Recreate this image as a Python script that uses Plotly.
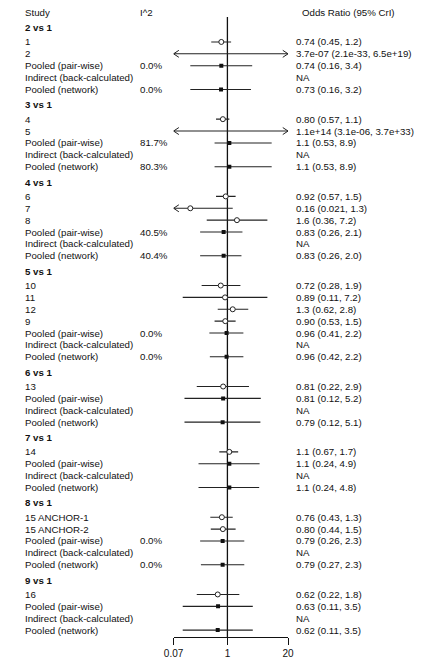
import math
import plotly.graph_objects as go

# ---- data ---------------------------------------------------------------
groups = ["2 vs 1", "3 vs 1", "4 vs 1", "5 vs 1", "6 vs 1", "7 vs 1", "8 vs 1", "9 vs 1"]

row_group = [0, 0, 0, 0, 0,
             1, 1, 1, 1, 1,
             2, 2, 2, 2, 2, 2,
             3, 3, 3, 3, 3, 3, 3,
             4, 4, 4, 4,
             5, 5, 5, 5,
             6, 6, 6, 6, 6,
             7, 7, 7, 7]

row_label = ["1", "2", "Pooled (pair-wise)", "Indirect (back-calculated)", "Pooled (network)",
             "4", "5", "Pooled (pair-wise)", "Indirect (back-calculated)", "Pooled (network)",
             "6", "7", "8", "Pooled (pair-wise)", "Indirect (back-calculated)", "Pooled (network)",
             "10", "11", "12", "9", "Pooled (pair-wise)", "Indirect (back-calculated)", "Pooled (network)",
             "13", "Pooled (pair-wise)", "Indirect (back-calculated)", "Pooled (network)",
             "14", "Pooled (pair-wise)", "Indirect (back-calculated)", "Pooled (network)",
             "15 ANCHOR-1", "15 ANCHOR-2", "Pooled (pair-wise)", "Indirect (back-calculated)", "Pooled (network)",
             "16", "Pooled (pair-wise)", "Indirect (back-calculated)", "Pooled (network)"]

row_kind = ["study", "study", "pooled", "indirect", "pooled",
            "study", "study", "pooled", "indirect", "pooled",
            "study", "study", "study", "pooled", "indirect", "pooled",
            "study", "study", "study", "study", "pooled", "indirect", "pooled",
            "study", "pooled", "indirect", "pooled",
            "study", "pooled", "indirect", "pooled",
            "study", "study", "pooled", "indirect", "pooled",
            "study", "pooled", "indirect", "pooled"]

row_i2 = ["", "", "0.0%", "", "0.0%",
          "", "", "81.7%", "", "80.3%",
          "", "", "", "40.5%", "", "40.4%",
          "", "", "", "", "0.0%", "", "0.0%",
          "", "", "", "",
          "", "", "", "",
          "", "", "0.0%", "", "0.0%",
          "", "", "", ""]

row_est = [0.74, 3.7e-07, 0.74, None, 0.73,
           0.80, 1.1e+14, 1.1, None, 1.1,
           0.92, 0.16, 1.6, 0.83, None, 0.83,
           0.72, 0.89, 1.3, 0.90, 0.96, None, 0.96,
           0.81, 0.81, None, 0.79,
           1.1, 1.1, None, 1.1,
           0.76, 0.80, 0.79, None, 0.79,
           0.62, 0.63, None, 0.62]

row_lo = [0.45, 2.1e-33, 0.16, None, 0.16,
          0.57, 3.1e-06, 0.53, None, 0.53,
          0.57, 0.021, 0.36, 0.26, None, 0.26,
          0.28, 0.11, 0.62, 0.53, 0.41, None, 0.42,
          0.22, 0.12, None, 0.12,
          0.67, 0.24, None, 0.24,
          0.43, 0.44, 0.26, None, 0.27,
          0.22, 0.11, None, 0.11]

row_hi = [1.2, 6.5e+19, 3.4, None, 3.2,
          1.1, 3.7e+33, 8.9, None, 8.9,
          1.5, 1.3, 7.2, 2.1, None, 2.0,
          1.9, 7.2, 2.8, 1.5, 2.2, None, 2.2,
          2.9, 5.2, None, 5.1,
          1.7, 4.9, None, 4.8,
          1.3, 1.5, 2.3, None, 2.3,
          1.8, 3.5, None, 3.5]

x_ticks = [0.07, 1, 20]
x_tick_text = ["0.07", "1", "20"]

# ---- layout constants -----------------------------------------------------
W, H = 423, 659
ROW_PX = 11.9           # pixel height of one row
FIRST_ROW_PX = 42       # pixel y of the first row
AXIS_PX = 638           # pixel y of the x axis line
GAP = 2.5               # rows between the last row of a group and the next first row
XMIN, XMAX = x_ticks[0], x_ticks[-1]
PLOT_L, PLOT_R = 170, 289
FONT = "Arial, Liberation Sans, Helvetica, sans-serif"
FS = 9.7
INK = "#111111"
LINE = "#222222"


def fmt(v):
    if v < 1e-4 or v >= 1e5:
        return "%.1e" % v
    return "%#.2g" % v


# vertical positions, in row units (row 1 at 0, increasing downwards)
row_y, header_y = [], []
u = 0.0
prev = None
for g in row_group:
    if prev is None:
        header_y.append(u - 1.2)
    elif g != prev:
        u += GAP
        header_y.append(u - 1.2)
    else:
        u += 1
    row_y.append(u)
    prev = g

y_top = -FIRST_ROW_PX / ROW_PX
y_bot = (AXIS_PX - FIRST_ROW_PX) / ROW_PX
title_y = (13 - FIRST_ROW_PX) / ROW_PX
vline_top = (17 - FIRST_ROW_PX) / ROW_PX

px_per_dec = (PLOT_R - PLOT_L) / (math.log10(XMAX) - math.log10(XMIN))
head_dx = 5.5 / px_per_dec      # chevron length in decades
head_dy = 3.5 / ROW_PX          # chevron half-height in rows

fig = go.Figure()

# interval lines and arrow heads for intervals running off the scale
lx, ly, ax_, ay_ = [], [], [], []
for y, e, lo, hi in zip(row_y, row_est, row_lo, row_hi):
    if e is None:
        continue
    a, b = max(lo, XMIN), min(hi, XMAX)
    lx += [a, b, None]
    ly += [y, y, None]
    if lo < XMIN:
        ax_ += [XMIN * 10 ** head_dx, XMIN, XMIN * 10 ** head_dx, None]
        ay_ += [y - head_dy, y, y + head_dy, None]
    if hi > XMAX:
        ax_ += [XMAX / 10 ** head_dx, XMAX, XMAX / 10 ** head_dx, None]
        ay_ += [y - head_dy, y, y + head_dy, None]

fig.add_trace(go.Scatter(x=lx, y=ly, mode="lines", line=dict(color=LINE, width=1.1),
                         hoverinfo="skip", showlegend=False, cliponaxis=False))
fig.add_trace(go.Scatter(x=ax_, y=ay_, mode="lines", line=dict(color=LINE, width=1),
                         hoverinfo="skip", showlegend=False, cliponaxis=False))

# point estimates: open circles for studies, filled squares for pooled
sx, sy, px_, py_ = [], [], [], []
for y, e, k in zip(row_y, row_est, row_kind):
    if e is None or e < XMIN or e > XMAX:
        continue
    if k == "study":
        sx.append(e); sy.append(y)
    else:
        px_.append(e); py_.append(y)

fig.add_trace(go.Scatter(x=sx, y=sy, mode="markers",
                         marker=dict(symbol="circle", size=5, color="white",
                                     line=dict(color=LINE, width=1)),
                         showlegend=False, hoverinfo="skip"))
fig.add_trace(go.Scatter(x=px_, y=py_, mode="markers",
                         marker=dict(symbol="square", size=4, color=INK, line=dict(width=0)),
                         showlegend=False, hoverinfo="skip"))

# reference line at OR = 1
fig.add_shape(type="line", xref="x", yref="y", x0=1, x1=1, y0=vline_top, y1=y_bot,
              line=dict(color=INK, width=1.3), layer="below")

# text columns
ann = []


def text(xpx, y, s, bold=False, anchor="left"):
    ann.append(dict(xref="paper", yref="y", x=xpx / W, y=y, text=f"<b>{s}</b>" if bold else s,
                    showarrow=False, xanchor=anchor, yanchor="middle",
                    font=dict(family=FONT, size=FS, color=INK)))


text(14, title_y, "Study")
text(133, title_y, "I^2")
text(352, title_y, "Odds Ratio (95% CrI)", anchor="center")
for g, y in zip(groups, header_y):
    text(14, y, g, bold=True)
for y, lab, i2, e, lo, hi in zip(row_y, row_label, row_i2, row_est, row_lo, row_hi):
    text(14, y, lab)
    if i2:
        text(133, y, i2)
    if e is None:
        text(295, y, "NA")
    else:
        text(295, y, f"{fmt(e)} ({fmt(lo)}, {fmt(hi)})")

fig.update_layout(
    width=W, height=H, margin=dict(l=0, r=0, t=0, b=0),
    paper_bgcolor="white", plot_bgcolor="white",
    annotations=ann,
    xaxis=dict(type="log", domain=[PLOT_L / W, PLOT_R / W],
               range=[math.log10(XMIN), math.log10(XMAX)],
               tickmode="array", tickvals=x_ticks, ticktext=x_tick_text,
               ticks="outside", ticklen=7, tickwidth=1, tickcolor=INK,
               showline=True, linecolor=INK, linewidth=1,
               showgrid=False, zeroline=False,
               tickfont=dict(family=FONT, size=FS + 0.3, color=INK)),
    yaxis=dict(domain=[(H - AXIS_PX) / H, 1], range=[y_bot, y_top],
               visible=False, showgrid=False, zeroline=False),
)

fig.write_html("out.html", config={"displayModeBar": False})
